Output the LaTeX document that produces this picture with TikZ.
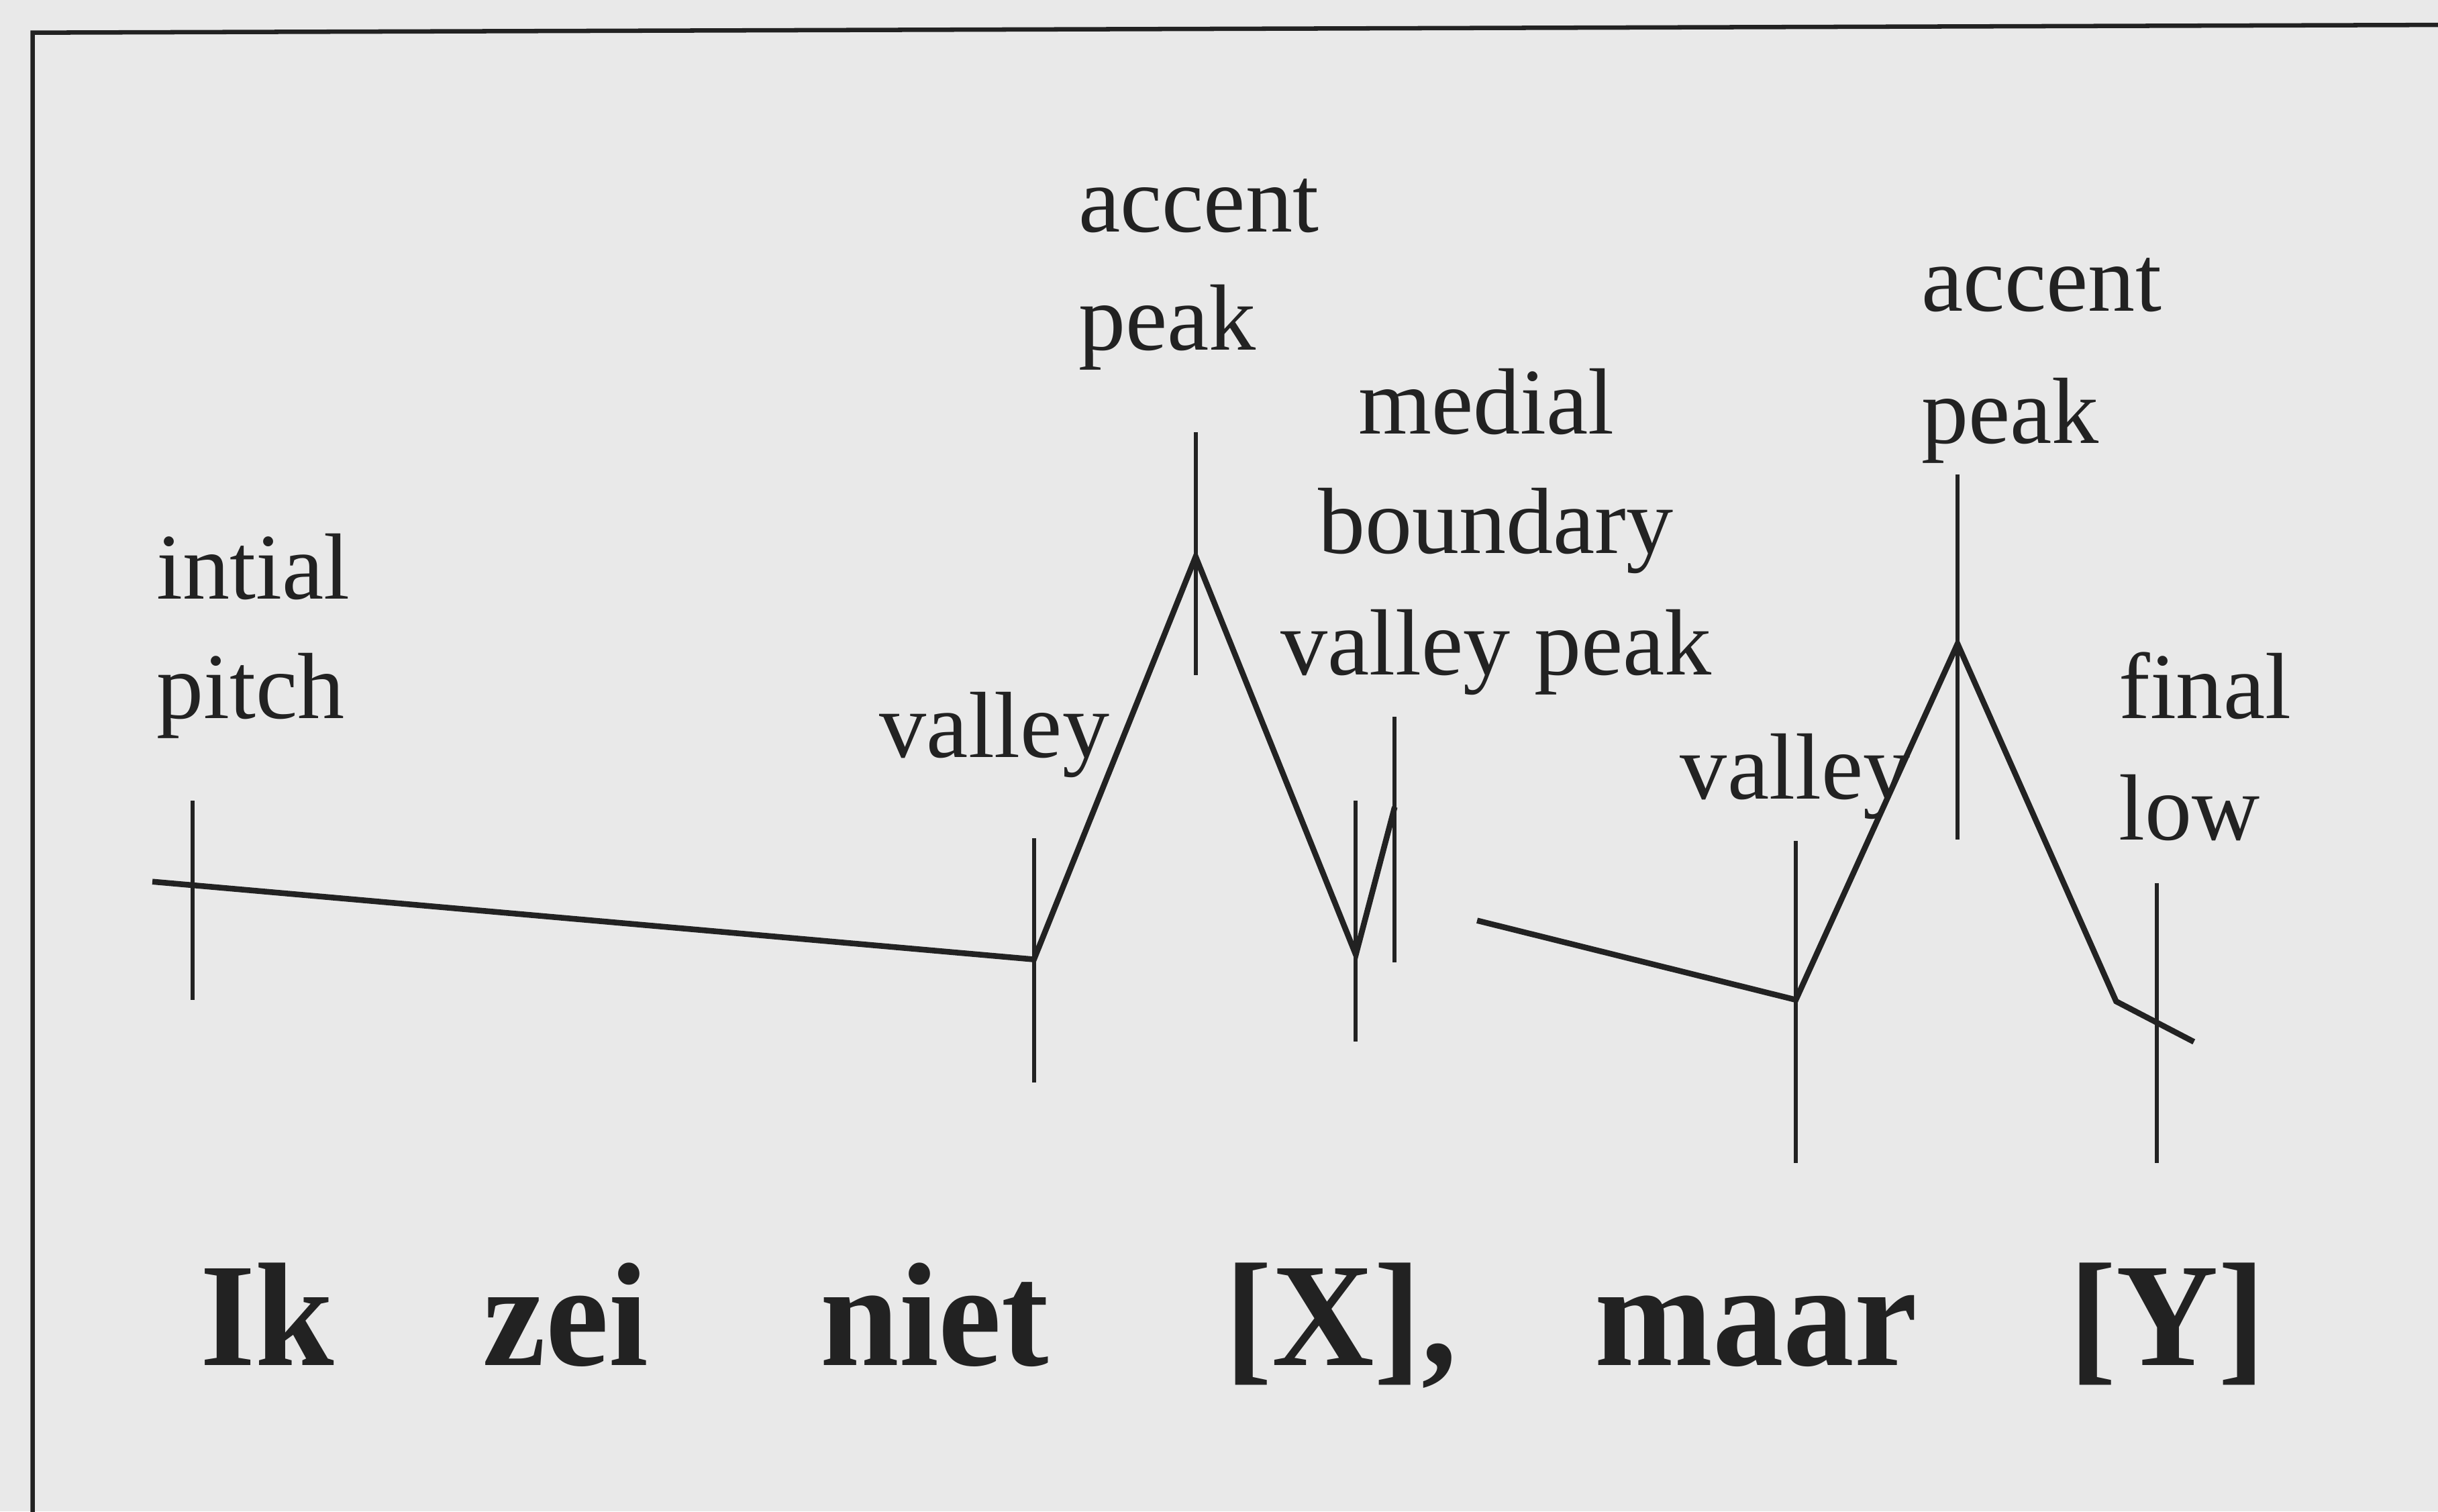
\documentclass[tikz,border=0pt]{standalone}
\usepackage{fontspec}
\setmainfont{Liberation Serif}
\begin{document}
\begin{tikzpicture}[x=0.01cm,y=-0.01cm,
  lbl/.style={anchor=base west,inner sep=0pt,font=\fontsize{17.2}{21.5}\selectfont,text=ink},
  word/.style={anchor=base west,inner sep=0pt,font=\fontsize{27}{32}\selectfont\bfseries,text=ink,xscale=0.96},
  contour/.style={draw=ink,line width=1.05pt,line join=miter},
  tick/.style={draw=ink,line width=0.75pt},
  frame/.style={draw=ink,line width=0.8pt}]
\definecolor{bg}{HTML}{E9E9E9}
\definecolor{ink}{HTML}{222222}
\fill[bg] (0,0) rectangle (1568,972);
\useasboundingbox (0,0) rectangle (1568,972);
% frame
\coordinate (fbl) at (21,975);
\coordinate (ftl) at (21,21);
\coordinate (ftr) at (1570,16);
\draw[frame] (fbl) -- (ftl) -- (ftr);
% contour points
\coordinate (p0) at (98,567);
\coordinate (v1) at (665,617);
\coordinate (pk1) at (769,358);
\coordinate (mv) at (872,614);
\coordinate (mp) at (897,519);
\coordinate (s2) at (950,592);
\coordinate (v2) at (1155,643);
\coordinate (pk2) at (1259,414);
\coordinate (fl) at (1361,644);
\coordinate (fe) at (1411,670);
\draw[contour] (p0) -- (v1) -- (pk1) -- (mv) -- (mp);
\draw[contour] (s2) -- (v2) -- (pk2) -- (fl) -- (fe);
% ticks
\coordinate (t1a) at (124,515); \coordinate (t1b) at (124,643);
\coordinate (t2a) at (665,539); \coordinate (t2b) at (665,696);
\coordinate (t3a) at (769,278); \coordinate (t3b) at (769,434);
\coordinate (t4a) at (872,515); \coordinate (t4b) at (872,670);
\coordinate (t5a) at (897,461); \coordinate (t5b) at (897,619);
\coordinate (t6a) at (1155,541); \coordinate (t6b) at (1155,748);
\coordinate (t7a) at (1259,305); \coordinate (t7b) at (1259,540);
\coordinate (t8a) at (1387,568); \coordinate (t8b) at (1387,748);
\foreach \t in {1,...,8} \draw[tick] (t\t a) -- (t\t b);
% labels
\node[lbl] (l1) at (100,385) {intial};
\node[lbl] (l2) at (100,462) {pitch};
\node[lbl] (l3) at (693,149) {accent};
\node[lbl] (l4) at (693,225) {peak};
\node[lbl] (l5) at (873,279) {medial};
\node[lbl] (l6) at (847,356) {boundary};
\node[lbl] (l7) at (823,434) {valley peak};
\node[lbl] (l8) at (565,487) {valley};
\node[lbl] (l9) at (1080,514) {valley};
\node[lbl] (l10) at (1235,200) {accent};
\node[lbl] (l11) at (1235,285) {peak};
\node[lbl] (l12) at (1362,462) {final};
\node[lbl] (l13) at (1362,540) {low};
% words
\node[word] (w1) at (128,878) {Ik};
\node[word] (w2) at (310,878) {zei};
\node[word] (w3) at (527,878) {niet};
\node[word] (w4) at (787,878) {[X],};
\node[word] (w5) at (1025,878) {maar};
\node[word] (w6) at (1330,878) {[Y]};
\end{tikzpicture}
\end{document}
